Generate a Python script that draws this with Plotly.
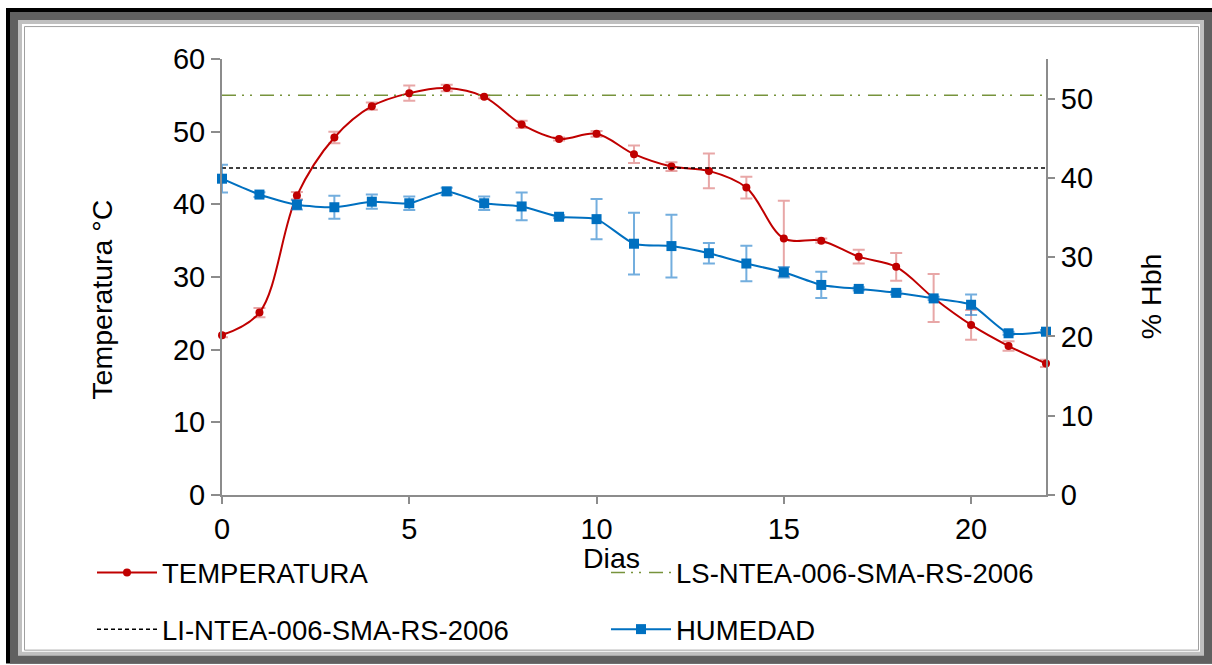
import plotly.graph_objects as go

# Compost pile monitoring: temperature and moisture by day
dias = list(range(23))
temperatura = [22.0, 25.1, 41.2, 49.2, 53.5, 55.3, 56.0, 54.8, 51.0, 49.0, 49.7, 46.9,
               45.2, 44.6, 42.3, 35.3, 35.0, 32.8, 31.4, 27.1, 23.4, 20.5, 18.1]
temperatura_err = [0.3, 0.65, 0.5, 0.8, 0.5, 1.05, 0.45, 0.2, 0.5, 0.2, 0.4, 1.2,
                   0.6, 2.4, 1.5, 5.2, 0.3, 0.95, 1.9, 3.3, 2.05, 0.65, 0.5]
humedad = [39.9, 37.9, 36.6, 36.3, 37.0, 36.8, 38.3, 36.8, 36.4, 35.1, 34.8, 31.7,
           31.4, 30.5, 29.2, 28.1, 26.5, 26.0, 25.5, 24.8, 24.0, 20.4, 20.6]
humedad_err = [1.75, 0.3, 0.6, 1.45, 0.9, 0.85, 0.45, 0.85, 1.75, 0.2, 2.55, 3.9,
               3.95, 1.3, 2.25, 0.65, 1.65, 0.2, 0.2, 0.2, 1.3, 0.2, 0.2]

# Norm limits (°C)
limite_superior = 55
limite_inferior = 45
x_ticks = [0, 5, 10, 15, 20]
y_ticks = [0, 10, 20, 30, 40, 50, 60]
y2_ticks = [0, 10, 20, 30, 40, 50]

FONT = "Liberation Sans, Arial, sans-serif"
FS_TICK = 29
FS_TITLE = 28.5
FS_LEG = 27.5
AXIS_GRAY = "#8c8c8c"

# plot-area geometry in pixels
W, H = 1212, 665
L, R, T, B = 222, 166, 59, 169
PW, PH = W - L - R, H - T - B


def px(x):
    return (x - L) / PW


def py(y):
    return (H - B - y) / PH


fig = go.Figure()

fig.add_trace(go.Scatter(
    x=dias, y=temperatura, name="TEMPERATURA", mode="lines+markers",
    line=dict(color="#C00000", width=2, shape="spline", smoothing=1),
    marker=dict(color="#C00000", size=8, symbol="circle"),
    error_y=dict(type="data", array=temperatura_err, visible=True,
                 color="rgba(205,60,60,0.45)", thickness=2, width=6),
    cliponaxis=False, legend="legend", legendgroup="t",
))
fig.add_trace(go.Scatter(
    x=[dias[0], dias[-1]], y=[limite_inferior, limite_inferior],
    name="LI-NTEA-006-SMA-RS-2006", mode="lines",
    line=dict(color="#000000", width=1.5, dash="4px,3px"),
    legend="legend", legendgroup="li",
))
fig.add_trace(go.Scatter(
    x=[dias[0], dias[-1]], y=[limite_superior, limite_superior],
    name="LS-NTEA-006-SMA-RS-2006", mode="lines",
    line=dict(color="#77933C", width=1.5, dash="14px,6px,2px,6px,2px,8px"),
    legend="legend2", legendgroup="ls",
))
fig.add_trace(go.Scatter(
    x=dias, y=humedad, name="HUMEDAD", mode="lines+markers", yaxis="y2",
    line=dict(color="#0070C0", width=2, shape="spline", smoothing=0.6),
    marker=dict(color="#0070C0", size=10, symbol="square"),
    error_y=dict(type="data", array=humedad_err, visible=True,
                 color="rgba(40,130,205,0.65)", thickness=2, width=6),
    cliponaxis=False, legend="legend2", legendgroup="h",
))

axis_common = dict(
    showline=True, linecolor=AXIS_GRAY, linewidth=2, ticks="outside",
    tickcolor=AXIS_GRAY, tickwidth=2, showgrid=False, zeroline=False,
    tickfont=dict(family=FONT, size=FS_TICK, color="#000"),
)

# Picture frame around the chart
frame = [
    dict(x0=6, y0=8, x1=1212, y1=665, fill="#000000"),
    dict(x0=10, y0=12, x1=1212, y1=665, fill="#606060"),
    dict(x0=18, y0=20, x1=1204, y1=657, fill="#C0C0C0"),
    dict(x0=22, y0=24, x1=1200, y1=653, fill="#FFFFFF"),
]
shapes = [
    dict(type="rect", xref="paper", yref="paper", layer="below",
         x0=px(f["x0"]), x1=px(f["x1"]), y0=py(f["y0"]), y1=py(f["y1"]),
         fillcolor=f["fill"], line=dict(width=0))
    for f in frame
]
shapes.append(dict(type="rect", xref="paper", yref="paper", layer="below",
                   x0=px(24.5), x1=px(1198.5), y0=py(26.5), y1=py(651.5),
                   fillcolor="#FFFFFF", line=dict(color="#A0A0A0", width=1)))

legend_common = dict(
    orientation="v", font=dict(family=FONT, size=FS_LEG, color="#000"),
    bgcolor="rgba(0,0,0,0)", itemwidth=60, tracegroupgap=18,
    xanchor="left", yanchor="top", traceorder="grouped",
)

title_font = dict(family=FONT, size=FS_TITLE, color="#000")

fig.update_layout(
    width=W, height=H,
    margin=dict(l=L, r=R, t=T, b=B, pad=0),
    paper_bgcolor="#FFFFFF", plot_bgcolor="rgba(0,0,0,0)",
    font=dict(family=FONT, size=FS_TICK, color="#000"),
    showlegend=True,
    xaxis=dict(range=[0, 22], tickvals=x_ticks, ticklen=7, **axis_common),
    yaxis=dict(range=[0, 60], tickvals=y_ticks, ticklen=9, **axis_common),
    yaxis2=dict(range=[0, 55], tickvals=y2_ticks, ticklen=7, overlaying="y",
                side="right", **axis_common),
    legend=dict(x=px(92), y=py(548), **legend_common),
    legend2=dict(x=px(606), y=py(548), **legend_common),
    shapes=shapes,
    annotations=[
        dict(text="Temperatura °C", x=px(101.7), y=py(300.5), xref="paper",
             yref="paper", showarrow=False, textangle=-90,
             xanchor="center", yanchor="middle", font=title_font),
        dict(text="% Hbh", x=px(1151.7), y=py(297), xref="paper", yref="paper",
             showarrow=False, textangle=-90,
             xanchor="center", yanchor="middle", font=title_font),
        dict(text="Dias", x=px(611), y=py(559), xref="paper", yref="paper",
             showarrow=False, xanchor="center", yanchor="middle",
             font=title_font),
    ],
)

fig.write_html("out.html")
